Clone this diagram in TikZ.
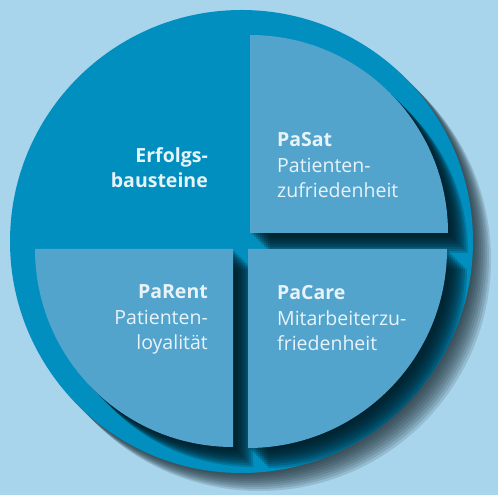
\documentclass[tikz,border=0pt]{standalone}
\usepackage{fontspec}
\setmainfont{Open Sans}
\usetikzlibrary{calc}
\definecolor{bgblue}{HTML}{A8D4EC}
\definecolor{discblue}{HTML}{008FBF}
\definecolor{pieceblue}{HTML}{53A4CD}
\definecolor{shadowblue}{HTML}{00161F}
\definecolor{discshadow}{HTML}{1B2A31}
\definecolor{textwhite}{HTML}{E8F3F9}
\tikzset{
  piece/.style={fill=pieceblue},
  blocktext/.style={text=textwhite, inner sep=0pt, font=\fontsize{19.5}{25.5}\selectfont}
}
% the three quarter pieces
\def\satpath{(250,262) -- (250,460) arc[start angle=90, end angle=0, radius=198] -- cycle}
\def\carepath{(248,246) -- (447,246) arc[start angle=0, end angle=-90, radius=199] -- cycle}
\def\rentpath{(233,246) -- (233,48) arc[start angle=-90, end angle=-180, radius=198] -- cycle}

\begin{document}
\begin{tikzpicture}[x=1pt, y=1pt]
        \useasboundingbox (0,0) rectangle (498,495);
        \fill[bgblue] (0,0) rectangle (498,495);
        \coordinate (M) at (241.5,253.5);

        % shadow of the disc
        \foreach \s in {2,4,...,18}
            \fill[discshadow, opacity=0.14] ($(M)+(\s,-\s)$) circle (231.5);
        \fill[discblue] (M) circle (231.5);

        % shadows of the pieces, kept inside the disc
        \begin{scope}
            \clip (M) circle (231.5);
            \foreach \s in {2,4,...,20}{
                \fill[shadowblue, opacity=0.19, shift={(\s,-\s)}] \satpath;
                \fill[shadowblue, opacity=0.19, shift={(\s,-\s)}] \carepath;
                \fill[shadowblue, opacity=0.19, shift={(\s,-\s)}] \rentpath;
            }
        \end{scope}

        \fill[piece] \satpath;
        \fill[piece] \carepath;
        \fill[piece] \rentpath;

        \node[blocktext, anchor=base east, align=right] (erfolg) at (208,307) {\textbf{Erfolgs-}\\\textbf{bausteine}};
        \node[blocktext, anchor=base west, align=left] (pasat) at (277,297) {\textbf{PaSat}\\Patienten-\\zufriedenheit};
        \node[blocktext, anchor=base east, align=right] (parent) at (208,145) {\textbf{PaRent}\\Patienten-\\loyalität};
        \node[blocktext, anchor=base west, align=left] (pacare) at (277,144) {\textbf{PaCare}\\Mitarbeiterzu-\\friedenheit};
\end{tikzpicture}
\end{document}
